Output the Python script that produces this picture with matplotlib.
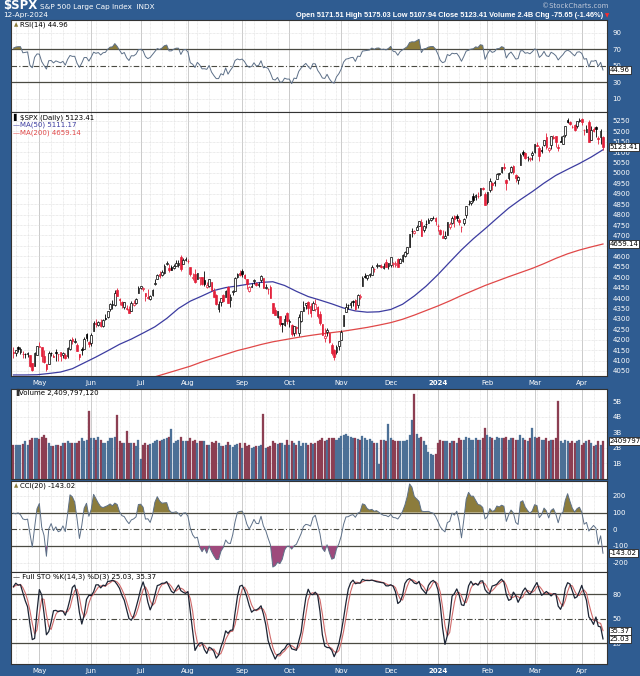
import numpy as np
import pandas as pd
import matplotlib
matplotlib.use('Agg')
import matplotlib.pyplot as plt

plt.rcParams['font.family'] = ['DejaVu Sans']
plt.rcParams['axes.unicode_minus'] = False

# trading calendar: Mar 10 2023 .. Apr 12 2024 (first 24 days only feed the indicators)
holidays = ['2023-04-07', '2023-05-29', '2023-06-19', '2023-07-04', '2023-09-04',
            '2023-11-23', '2023-12-25', '2024-01-01', '2024-01-15', '2024-02-19',
            '2024-03-29']
dates = pd.bdate_range('2023-03-10', '2024-04-12', freq='C', holidays=holidays)
WARMUP = 24

opens = [
    3912, 3835, 3894, 3876, 3878, 3959, 3917, 3975, 3990, 3949, 3939, 3982, 3974, 3999, 4047, 4057, 4102, 4128, 4094, 4082, 4085, 4122, 4132, 4100,
    4140, 4137, 4165, 4139, 4130, 4132, 4132, 4126, 4088, 4075, 4129,
    4166, 4165, 4123, 4082, 4084, 4137, 4124, 4143, 4132, 4139, 4126, 4127, 4122, 4157, 4204, 4191, 4177, 4133, 4155, 4156, 4226, 4191,
    4183, 4241, 4282, 4271, 4285, 4268, 4304, 4308, 4345, 4366, 4366, 4440, 4397, 4380, 4356, 4354, 4345, 4338, 4367, 4375, 4422,
    4450, 4442, 4422, 4404, 4395, 4416, 4467, 4492, 4514, 4509, 4521, 4563, 4546, 4550, 4543, 4555, 4558, 4598, 4565, 4584,
    4579, 4550, 4495, 4514, 4492, 4498, 4502, 4487, 4451, 4459, 4478, 4433, 4416, 4345, 4381, 4415, 4405, 4455, 4389, 4427, 4433, 4500, 4518,
    4531, 4511, 4491, 4434, 4452, 4480, 4473, 4462, 4488, 4498, 4446, 4445, 4453, 4374, 4342, 4311, 4313, 4282, 4270, 4328,
    4285, 4270, 4234, 4260, 4234, 4290, 4339, 4366, 4381, 4360, 4343, 4345, 4358, 4322, 4274, 4210, 4235, 4233, 4176, 4153, 4140, 4171,
    4201, 4268, 4335, 4365, 4367, 4385, 4391, 4365, 4406, 4458, 4505, 4497, 4510, 4512, 4538, 4553, 4555, 4555, 4546, 4572, 4555,
    4559, 4565, 4557, 4587, 4568, 4577, 4601, 4618, 4647, 4722, 4714, 4726, 4744, 4764, 4725, 4753, 4758, 4773, 4786, 4783,
    4745, 4726, 4698, 4690, 4703, 4742, 4760, 4792, 4792, 4772, 4740, 4761, 4796, 4853, 4856, 4888, 4886, 4888, 4892, 4925, 4900,
    4862, 4917, 4951, 4951, 4973, 4996, 5004, 5026, 4967, 4976, 5004, 5031, 4989, 4964, 5039, 5100, 5094, 5074, 5068, 5085,
    5098, 5131, 5120, 5109, 5133, 5173, 5112, 5134, 5174, 5176, 5123, 5154, 5139, 5181, 5253, 5243, 5220, 5228, 5227, 5248,
    5258, 5204, 5195, 5245, 5159, 5211, 5218, 5168, 5172, 5171.51,
]
highs = [
    3935, 3905, 3937, 3894, 3964, 3959, 3956, 4003, 4039, 4003, 3973, 4003, 3979, 4030, 4058, 4110, 4127, 4134, 4100, 4108, 4110, 4124, 4133, 4150,
    4164, 4152, 4170, 4163, 4148, 4138, 4142, 4127, 4089, 4139, 4170,
    4187, 4165, 4149, 4083, 4148, 4143, 4131, 4154, 4133, 4143, 4141, 4136, 4164, 4203, 4212, 4210, 4186, 4133, 4166, 4213, 4231, 4195,
    4232, 4291, 4300, 4289, 4299, 4298, 4322, 4339, 4375, 4391, 4439, 4448, 4400, 4387, 4382, 4366, 4363, 4384, 4390, 4398, 4458,
    4457, 4454, 4423, 4441, 4413, 4443, 4489, 4517, 4528, 4533, 4562, 4578, 4565, 4556, 4564, 4580, 4583, 4607, 4590, 4595,
    4585, 4550, 4519, 4540, 4520, 4503, 4503, 4528, 4476, 4490, 4478, 4450, 4421, 4385, 4401, 4419, 4440, 4459, 4418, 4440, 4500, 4521, 4532,
    4541, 4515, 4491, 4457, 4474, 4490, 4478, 4479, 4511, 4498, 4466, 4449, 4462, 4376, 4357, 4339, 4313, 4282, 4318, 4334,
    4300, 4277, 4268, 4268, 4324, 4337, 4385, 4378, 4385, 4377, 4384, 4394, 4364, 4339, 4277, 4256, 4255, 4236, 4183, 4157, 4177, 4195,
    4245, 4320, 4374, 4373, 4387, 4391, 4393, 4418, 4421, 4504, 4522, 4511, 4521, 4557, 4542, 4569, 4560, 4562, 4568, 4588, 4569,
    4599, 4575, 4579, 4590, 4590, 4610, 4624, 4644, 4709, 4738, 4726, 4749, 4768, 4779, 4749, 4772, 4784, 4785, 4793, 4789,
    4755, 4729, 4727, 4721, 4764, 4765, 4791, 4799, 4803, 4782, 4745, 4783, 4843, 4868, 4866, 4903, 4898, 4907, 4929, 4932, 4907,
    4906, 4975, 4958, 4964, 4999, 5001, 5030, 5048, 4971, 5003, 5033, 5038, 4993, 4983, 5094, 5112, 5098, 5082, 5077, 5104,
    5140, 5149, 5127, 5128, 5160, 5190, 5125, 5179, 5180, 5177, 5137, 5176, 5180, 5226, 5261, 5247, 5229, 5236, 5249, 5265,
    5264, 5209, 5229, 5256, 5223, 5219, 5225, 5179, 5211, 5175.03,
]
lows = [
    3847, 3809, 3873, 3839, 3864, 3901, 3917, 3966, 3936, 3909, 3909, 3970, 3951, 3999, 4033, 4057, 4098, 4086, 4071, 4077, 4072, 4102, 4087, 4100,
    4113, 4124, 4140, 4131, 4114, 4114, 4117, 4071, 4049, 4073, 4128,
    4164, 4093, 4088, 4048, 4084, 4123, 4116, 4098, 4099, 4099, 4111, 4109, 4113, 4153, 4180, 4185, 4144, 4101, 4125, 4155, 4193, 4166,
    4171, 4241, 4262, 4264, 4263, 4262, 4293, 4305, 4337, 4345, 4362, 4408, 4367, 4350, 4347, 4341, 4328, 4336, 4360, 4372, 4422,
    4442, 4436, 4385, 4397, 4391, 4408, 4463, 4490, 4494, 4505, 4514, 4557, 4527, 4532, 4541, 4553, 4548, 4528, 4564, 4578,
    4567, 4506, 4485, 4474, 4491, 4464, 4462, 4457, 4447, 4453, 4432, 4404, 4365, 4335, 4361, 4381, 4403, 4375, 4357, 4416, 4432, 4496, 4507,
    4502, 4490, 4443, 4431, 4452, 4467, 4457, 4453, 4479, 4447, 4442, 4417, 4402, 4329, 4317, 4303, 4265, 4238, 4264, 4274,
    4260, 4220, 4220, 4226, 4219, 4284, 4339, 4346, 4325, 4311, 4343, 4339, 4306, 4270, 4223, 4190, 4219, 4182, 4127, 4103, 4132, 4153,
    4197, 4268, 4335, 4347, 4354, 4360, 4343, 4353, 4394, 4458, 4495, 4488, 4500, 4511, 4525, 4545, 4552, 4546, 4541, 4547, 4538,
    4547, 4547, 4551, 4547, 4566, 4575, 4599, 4609, 4643, 4694, 4705, 4726, 4743, 4698, 4716, 4737, 4758, 4768, 4780, 4751,
    4723, 4700, 4688, 4682, 4700, 4730, 4756, 4740, 4769, 4748, 4715, 4750, 4786, 4845, 4845, 4862, 4870, 4881, 4887, 4917, 4845,
    4853, 4907, 4918, 4939, 4970, 4988, 5000, 5016, 4920, 4964, 4999, 4996, 4956, 4947, 5039, 5081, 5068, 5058, 5058, 5061,
    5094, 5127, 5057, 5093, 5128, 5115, 5102, 5115, 5161, 5125, 5104, 5146, 5138, 5171, 5240, 5230, 5216, 5203, 5213, 5246,
    5230, 5184, 5194, 5146, 5157, 5198, 5171, 5138, 5139, 5107.94,
]
closes = [
    3862, 3856, 3919, 3892, 3960, 3917, 3952, 3991, 3937, 3949, 3971, 3978, 3971, 4028, 4051, 4109, 4125, 4101, 4090, 4105, 4109, 4109, 4092, 4146,
    4138, 4151, 4155, 4155, 4130, 4133, 4137, 4072, 4056, 4135, 4169,
    4168, 4120, 4091, 4061, 4136, 4138, 4119, 4138, 4131, 4124, 4136, 4110, 4159, 4198, 4192, 4193, 4146, 4115, 4151, 4205, 4206, 4180,
    4221, 4282, 4274, 4284, 4268, 4294, 4299, 4339, 4369, 4373, 4426, 4410, 4389, 4366, 4382, 4348, 4329, 4378, 4377, 4396, 4450,
    4456, 4447, 4412, 4399, 4410, 4439, 4472, 4510, 4505, 4523, 4555, 4566, 4535, 4536, 4555, 4567, 4567, 4537, 4582, 4589,
    4577, 4513, 4502, 4478, 4518, 4499, 4468, 4469, 4464, 4490, 4438, 4404, 4370, 4370, 4400, 4388, 4436, 4376, 4406, 4433, 4498, 4515, 4508,
    4516, 4497, 4465, 4451, 4457, 4487, 4462, 4467, 4505, 4450, 4454, 4444, 4402, 4330, 4320, 4337, 4274, 4275, 4300, 4288,
    4288, 4229, 4264, 4258, 4309, 4336, 4358, 4377, 4350, 4328, 4374, 4373, 4315, 4278, 4224, 4217, 4248, 4187, 4137, 4117, 4167, 4194,
    4238, 4318, 4358, 4366, 4378, 4383, 4347, 4415, 4412, 4496, 4503, 4508, 4514, 4547, 4538, 4557, 4559, 4550, 4555, 4551, 4568,
    4595, 4570, 4567, 4549, 4586, 4604, 4622, 4644, 4707, 4720, 4719, 4741, 4768, 4698, 4747, 4755, 4775, 4782, 4783, 4770,
    4743, 4705, 4689, 4697, 4764, 4757, 4783, 4780, 4784, 4766, 4739, 4781, 4840, 4850, 4865, 4869, 4894, 4891, 4928, 4925, 4846,
    4906, 4959, 4943, 4954, 4995, 4998, 5027, 5022, 4953, 5001, 5030, 5006, 4976, 4982, 5087, 5089, 5070, 5078, 5070, 5096,
    5137, 5131, 5079, 5105, 5157, 5124, 5118, 5175, 5165, 5150, 5117, 5149, 5179, 5225, 5242, 5234, 5218, 5204, 5248, 5254,
    5244, 5206, 5211, 5147, 5204, 5202, 5210, 5161, 5199, 5123.41,
]
# volume in billions, visible days only (Apr 14 2023 ..)
volume_b = [
    2.2, 2.15, 2.2, 2.2, 2.25, 2.4, 2.2, 2.5, 2.6, 2.65, 2.6,
    2.55, 2.7, 2.8, 2.6, 2.3, 2.1, 2.1, 2.2, 2.2, 2.1, 2.3, 2.3, 2.4, 2.3, 2.3, 2.3, 2.3, 2.4, 2.6, 2.4, 2.5, 4.36,
    2.6, 2.6, 2.5, 2.7, 2.5, 2.3, 2.3, 2.4, 2.6, 2.6, 2.7, 4.1, 2.4, 2.3, 2.3, 3.05, 2.3, 2.3, 2.3, 2.1, 2.5,
    1.25, 2.15, 2.3, 2.15, 2.25, 2.3, 2.4, 2.5, 2.45, 2.5, 2.55, 2.6, 2.7, 3.2, 2.3, 2.4, 2.5, 2.7, 2.4, 2.45,
    2.4, 2.6, 2.45, 2.5, 2.3, 2.4, 2.4, 2.45, 2.2, 2.2, 2.35, 2.3, 2.4, 2.3, 2.1, 2.1, 2.2, 2.35, 2.15, 2.05, 2.2, 2.25, 2.3,
    2.0, 2.3, 2.1, 2.2, 2.0, 2.05, 2.1, 2.1, 2.2, 4.15, 2.0, 2.05, 2.1, 2.4, 2.3, 2.25, 2.3, 2.3, 2.2, 2.5,
    2.2, 2.4, 2.3, 2.2, 2.4, 2.1, 2.3, 2.3, 2.2, 2.3, 2.25, 2.3, 2.4, 2.5, 2.6, 2.4, 2.5, 2.6, 2.65, 2.6, 2.5, 2.6,
    2.75, 2.8, 2.9, 2.75, 2.7, 2.6, 2.6, 2.55, 2.5, 2.75, 2.6, 2.5, 2.55, 2.4, 2.3, 2.3, 0.95, 2.5, 2.5, 2.4, 3.5,
    2.6, 2.5, 2.4, 2.45, 2.4, 2.4, 2.45, 2.5, 2.8, 3.8, 5.5, 2.9, 2.6, 2.7, 2.4, 2.2, 1.7, 1.6, 1.55, 1.6,
    2.3, 2.5, 2.4, 2.4, 2.4, 2.3, 2.4, 2.4, 2.3, 2.6, 2.5, 2.5, 2.7, 2.6, 2.5, 2.5, 2.6, 2.5, 2.5, 2.6, 3.3,
    2.8, 2.7, 2.6, 2.5, 2.7, 2.6, 2.6, 2.6, 2.7, 2.5, 2.6, 2.6, 2.5, 2.5, 2.8, 2.6, 2.5, 2.4, 2.6, 3.3,
    2.7, 2.6, 2.7, 2.5, 2.5, 2.6, 2.4, 2.5, 2.5, 2.6, 5.05, 2.4, 2.3, 2.5, 2.4, 2.3, 2.4, 2.3, 2.4, 2.5,
    2.2, 2.3, 2.4, 2.5, 2.3, 2.1, 2.2, 2.4, 2.2, 2.41,
]
# moving averages, every 5th visible day
ma_step = 5
ma50 = [4031, 4031, 4032, 4038, 4045, 4061, 4089, 4117, 4147, 4178, 4203, 4232, 4262,
        4302, 4350, 4385, 4410, 4436, 4450, 4458, 4467, 4475, 4478, 4460, 4432, 4407,
        4390, 4372, 4352, 4338, 4332, 4334, 4345, 4370, 4410, 4457, 4512, 4572, 4631,
        4684, 4732, 4782, 4831, 4872, 4910, 4951, 4988, 5017, 5045, 5076, 5111]
ma200_start = 60
ma200 = [4022, 4039, 4056, 4073, 4094, 4112, 4130, 4148, 4162, 4177, 4190, 4200, 4210,
         4219, 4227, 4234, 4241, 4250, 4259, 4270, 4282, 4298, 4318, 4340, 4362, 4386,
         4412, 4436, 4460, 4481, 4502, 4522, 4542, 4565, 4590, 4612, 4630, 4645, 4659]

o = pd.Series(opens, dtype=float)
h = pd.Series(highs, dtype=float)
l = pd.Series(lows, dtype=float)
c = pd.Series(closes, dtype=float)
assert len(o) == len(h) == len(l) == len(c) == len(dates)

# indicators
d = c.diff().fillna(0)
up = d.clip(lower=0).ewm(alpha=1 / 14, adjust=False).mean()
dn = (-d.clip(upper=0)).ewm(alpha=1 / 14, adjust=False).mean()
rsi = 100 - 100 / (1 + up / dn)
tp = (h + l + c) / 3
mad = tp.rolling(20).apply(lambda s: np.abs(s - s.mean()).mean(), raw=True)
cci = (tp - tp.rolling(20).mean()) / (0.015 * mad)
raw_k = 100 * (c - l.rolling(14).min()) / (h.rolling(14).max() - l.rolling(14).min())
pct_k = raw_k.rolling(3).mean()
pct_d = pct_k.rolling(3).mean()

vd = dates[WARMUP:]
O, Hh, Ll, C = (s.values[WARMUP:] for s in (o, h, l, c))
prevC = c.values[WARMUP - 1:-1]
rsi, cci, pct_k, pct_d = (s.values[WARMUP:] for s in (rsi, cci, pct_k, pct_d))
n = len(C)
x = np.arange(n)
vol = np.array(volume_b) * 1e9
assert len(vol) == n

month_starts = [i for i in range(1, n) if vd[i].month != vd[i - 1].month]
week_starts = [i for i in range(1, n) if vd[i].weekday() < vd[i - 1].weekday()]
month_labels = ['2024' if vd[i].month == 1 else vd[i].strftime('%b') for i in month_starts]

W, H = 640, 676
L, R = 11, 607
BG = '#2F5C91'
fig = plt.figure(figsize=(6.4, 6.76), dpi=100, facecolor=BG)


def ftext(px, py, s, **kw):
    fig.text(px / W, 1 - py / H, s, **kw)


def panel(top, bottom):
    ax = fig.add_axes([L / W, 1 - bottom / H, (R - L) / W, (bottom - top) / H])
    ax.set_facecolor('white')
    ax.set_xlim(-1.02, 251.7)
    for i in week_starts:
        ax.axvline(i, color='#DCDCDC', lw=0.5, ls=(0, (1, 1)), zorder=0)
    for i in month_starts:
        ax.axvline(i, color='#C4C4C4', lw=0.6, zorder=0)
    ax.yaxis.tick_right()
    ax.tick_params(axis='y', length=0, labelsize=5, labelcolor='white', pad=4)
    ax.tick_params(axis='x', length=0, labelbottom=False)
    ax.set_xticks(month_starts)
    for s in ax.spines.values():
        s.set_color('#333333')
        s.set_linewidth(0.8)
    return ax


def hgrid(ax, levels):
    for v in levels:
        ax.axhline(v, color='#D8D8D8', lw=0.5, ls=(0, (1, 1)), zorder=0)


def refline(ax, v, dash=False):
    ax.axhline(v, color='#4A4A42', lw=0.9 if not dash else 0.8,
               ls=(0, (5, 2, 1, 2)) if dash else '-', zorder=1)


def tag(ax, y, s):
    ax.annotate(s, xy=(1, y), xycoords=('axes fraction', 'data'), xytext=(2, 0),
                textcoords='offset points', fontsize=5, va='center', ha='left', color='black',
                bbox=dict(boxstyle='square,pad=0.12', fc='white', ec='#222222', lw=0.6),
                annotation_clip=False, zorder=10)


def month_axis(ax):
    ax.tick_params(axis='x', labelbottom=True, labelcolor='white', labelsize=5, pad=3)
    ax.set_xticklabels(month_labels)
    for t in ax.get_xticklabels():
        if t.get_text() == '2024':
            t.set_fontweight('bold')


olive = '#8C7C3C'
plum = '#9E4A7C'
ind_line = '#5D7088'

# header
ftext(3, 6, '$SPX', fontsize=8.5, fontweight='bold', color='white', va='center')
ftext(40, 6.5, 'S&P 500 Large Cap Index  INDX', fontsize=5.2, color='white', va='center')
ftext(3, 15.5, '12-Apr-2024', fontsize=5.2, color='white', va='center')
ftext(608, 6, '\u00a9StockCharts.com', fontsize=5, color='#C0C8D8', va='center', ha='right')
ftext(603, 15.5, 'Open 5171.51 High 5175.03 Low 5107.94 Close 5123.41 Volume 2.4B Chg -75.65 (-1.46%)',
      fontsize=5.3, fontweight='bold', color='white', va='center', ha='right', family='Liberation Sans')
ftext(605, 15.5, '\u25bc', fontsize=4, color='#FF2A2A', va='center')

# RSI
ax1 = panel(20, 111.5)
ax1.set_ylim(-5.1, 105.3)
ax1.set_yticks([10, 30, 50, 70, 90])
hgrid(ax1, [10, 90])
refline(ax1, 70)
refline(ax1, 30)
refline(ax1, 50, dash=True)
ax1.fill_between(x, rsi, 70, where=rsi > 70, interpolate=True, color=olive, lw=0, zorder=2)
ax1.fill_between(x, rsi, 30, where=rsi < 30, interpolate=True, color=plum, lw=0, zorder=2)
ax1.plot(x, rsi, color=ind_line, lw=0.7, zorder=3)
tag(ax1, 44.96, '44.96')
ftext(14, 25, '\u25b2', fontsize=4, color=olive, va='center')
ftext(20, 25, 'RSI(14) 44.96', fontsize=5, color='black', va='center')

# price
ax2 = panel(112, 376)
ax2.set_ylim(4026, 5292)
ticks = np.arange(4050, 5251, 50)
ax2.set_yticks(ticks)
ax2.set_yticklabels([str(t) for t in ticks])
hgrid(ax2, ticks)
ax2.plot(np.arange(len(ma50)) * ma_step, ma50, color='#3C3CA0', lw=0.9, zorder=2)
ax2.plot(ma200_start + np.arange(len(ma200)) * ma_step, ma200, color='#E04848', lw=0.9, zorder=2)
col = np.where(C < prevC, '#E3203A', '#000000')
face = np.where(C > O, 'white', col)
ax2.vlines(x, Ll, Hh, colors=col, lw=0.6, zorder=3)
ax2.bar(x, np.maximum(np.abs(C - O), 1.5), bottom=np.minimum(O, C), width=0.7,
        color=face, edgecolor=col, lw=0.5, zorder=4)
tag(ax2, 5123.41, '5123.41')
tag(ax2, 4659.14, '4659.14')
month_axis(ax2)
ftext(13, 117.5, '\u258c', fontsize=5, color='black', va='center')
ftext(20, 117.5, '$SPX (Daily) 5123.41', fontsize=5, color='black', va='center')
ftext(13, 125, '\u2014MA(50) 5111.17', fontsize=5, color='#3C3CA0', va='center')
ftext(13, 133, '\u2014MA(200) 4659.14', fontsize=5, color='#E04848', va='center')

# volume
ax3 = panel(389, 478.5)
ax3.set_ylim(0, 5.8e9)
vt = np.arange(1, 6) * 1e9
ax3.set_yticks(vt)
ax3.set_yticklabels(['%dB' % k for k in range(1, 6)])
hgrid(ax3, vt)
vcol = np.where(C < prevC, '#8C3E52', '#4C7096')
ax3.bar(x, vol, width=0.85, color=vcol, edgecolor=vcol, lw=0.2, zorder=2)
tag(ax3, 2.409797120e9, '2409797120')
ftext(13, 392.5, '\u2590', fontsize=5, color='#333333', va='center')
ftext(19, 392.5, 'Volume 2,409,797,120', fontsize=5, color='black', va='center')

# CCI
ax4 = panel(481, 572)
ax4.set_ylim(-256, 289)
ax4.set_yticks([-200, -100, 0, 100, 200])
hgrid(ax4, [-200, 200])
refline(ax4, 100)
refline(ax4, -100)
refline(ax4, 0, dash=True)
ax4.fill_between(x, cci, 100, where=cci > 100, interpolate=True, color=olive, lw=0, zorder=2)
ax4.fill_between(x, cci, -100, where=cci < -100, interpolate=True, color=plum, lw=0, zorder=2)
ax4.plot(x, cci, color=ind_line, lw=0.7, zorder=3)
tag(ax4, -143.02, '-143.02')
ftext(14, 485.5, '\u25b2', fontsize=4, color=olive, va='center')
ftext(20, 485.5, 'CCI(20) -143.02', fontsize=5, color='black', va='center')

# Full stochastics
ax5 = panel(572, 664)
ax5.set_ylim(-5.3, 107)
ax5.set_yticks([20, 50, 80])
refline(ax5, 80)
refline(ax5, 20)
refline(ax5, 50, dash=True)
ax5.plot(x, pct_d, color='#D06A6A', lw=0.8, zorder=2)
ax5.plot(x, pct_k, color='#1C2434', lw=0.9, zorder=3)
tag(ax5, 35.37, '35.37')
tag(ax5, 25.03, '25.03')
month_axis(ax5)
ftext(13, 577, '\u2014 Full STO %K(14,3) %D(3) 25.03, 35.37', fontsize=5, color='black', va='center')

fig.savefig('out.png', dpi=100, facecolor=BG)
